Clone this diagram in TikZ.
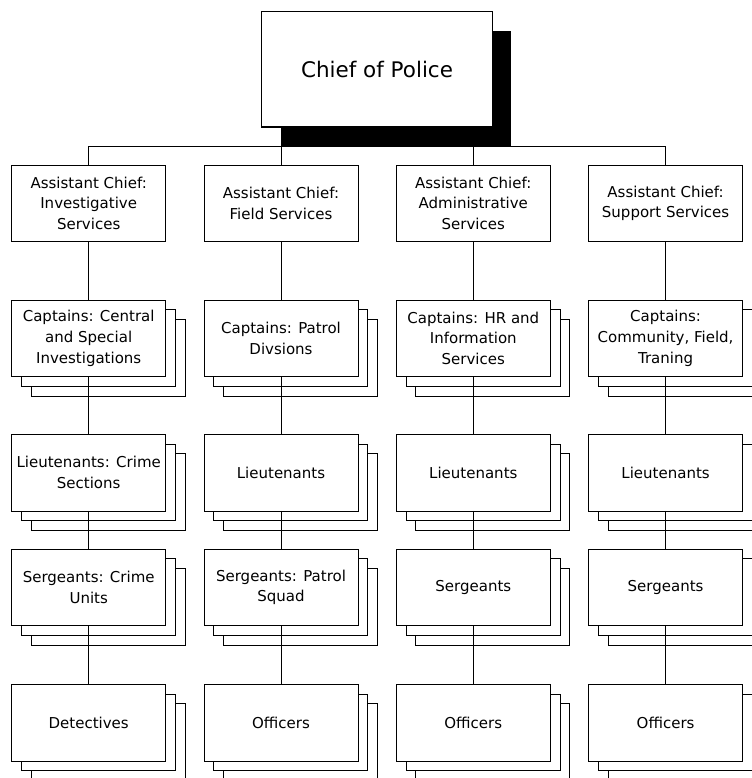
\documentclass[tikz,border=0pt]{standalone}
\usepackage{fontspec}
\setmainfont{DejaVu Sans}
\usetikzlibrary{backgrounds}

% unit boxes of the organisation chart
\tikzset{
  unit/.style={draw=black, fill=white, minimum width=115.5pt, minimum height=57.5pt,
    inner sep=0pt, outer sep=0pt, align=center,
    font=\fontsize{11.25pt}{15.4pt}\selectfont},
  chiefbox/.style={unit, minimum width=172.7pt, minimum height=86.5pt,
    font=\fontsize{16.1pt}{19pt}\selectfont},
  copybox/.style={draw=black, fill=white},
  link/.style={draw=black},
}

% two offset copies behind a box, for units with several members
\newcommand\stackcopies[1]{%
  \begin{pgfonlayer}{background}
    \foreach \k in {2,1}{
      \draw[copybox] ([shift={(\k*9.7,\k*9.7)}]#1.north west)
        rectangle ([shift={(\k*9.7,\k*9.7)}]#1.south east);
    }
  \end{pgfonlayer}}

\begin{document}
\begin{tikzpicture}[x=0.75pt, y=-0.75pt, line width=0.8pt]
\useasboundingbox (0,0) rectangle (752,778);
\clip (0,0) rectangle (752,778);

% top of the chain of command
\node[chiefbox] (chief) at (377,69.35) {Chief of Police};
\begin{pgfonlayer}{background}
  \fill[black] ([shift={(19.3,19.3)}]chief.north west)
    rectangle ([shift={(19.3,19.3)}]chief.south east);
\end{pgfonlayer}

% assistant chiefs
\node[unit] (a1) at (88.7,203.35)  {Assistant Chief:\\Investigative\\Services};
\node[unit] (a2) at (281,203.35)   {Assistant Chief:\\Field Services};
\node[unit] (a3) at (473.3,203.35) {Assistant Chief:\\Administrative\\Services};
\node[unit] (a4) at (665.6,203.35) {Assistant Chief:\\Support Services};

% captains
\node[unit] (c1) at (88.7,338.35)  {Captains: Central\\and Special\\Investigations};
\node[unit] (c2) at (281,338.35)   {Captains: Patrol\\Divsions};
\node[unit] (c3) at (473.3,338.35) {Captains: HR and\\Information\\Services};
\node[unit] (c4) at (665.6,338.35) {Captains:\\Community, Field,\\Traning};

% lieutenants
\node[unit] (l1) at (88.7,472.65)  {Lieutenants: Crime\\Sections};
\node[unit] (l2) at (281,472.65)   {Lieutenants};
\node[unit] (l3) at (473.3,472.65) {Lieutenants};
\node[unit] (l4) at (665.6,472.65) {Lieutenants};

% sergeants
\node[unit] (s1) at (88.7,587.35)  {Sergeants: Crime\\Units};
\node[unit] (s2) at (281,587.35)   {Sergeants: Patrol\\Squad};
\node[unit] (s3) at (473.3,587.35) {Sergeants};
\node[unit] (s4) at (665.6,587.35) {Sergeants};

% detectives and officers
\node[unit] (o1) at (88.7,722.65)  {Detectives};
\node[unit] (o2) at (281,722.65)   {Officers};
\node[unit] (o3) at (473.3,722.65) {Officers};
\node[unit] (o4) at (665.6,722.65) {Officers};

\foreach \r in {c,l,s,o}{
  \foreach \i in {1,...,4}{
    \stackcopies{\r\i}
  }
}

% connectors
\coordinate (bus) at (377,146);
\draw[link] (chief.south) -- (bus);
\draw[link] (a1.north) |- (bus);
\draw[link] (a4.north) |- (bus);
\draw[link] (a2.north) -- (a2.north |- bus);
\draw[link] (a3.north) -- (a3.north |- bus);
\foreach \i in {1,...,4}{
  \draw[link] (a\i.south) -- (c\i.north);
  \draw[link] (c\i.south) -- (l\i.north);
  \draw[link] (l\i.south) -- (s\i.north);
  \draw[link] (s\i.south) -- (o\i.north);
}
\end{tikzpicture}
\end{document}
